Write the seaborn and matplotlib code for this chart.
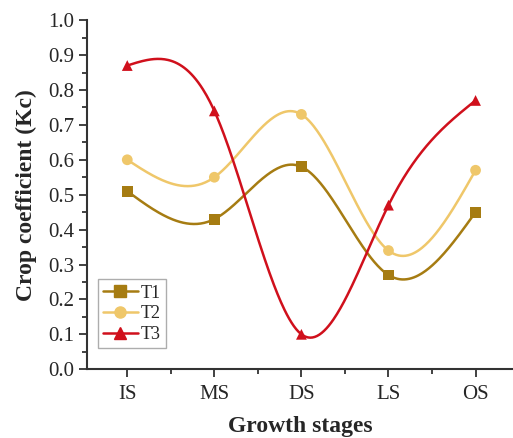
import numpy as np
import pandas as pd
import matplotlib
matplotlib.use("Agg")
import matplotlib.pyplot as plt
import seaborn as sns
from matplotlib.ticker import MultipleLocator
from matplotlib.lines import Line2D

stages = ["IS", "MS", "DS", "LS", "OS"]
t1 = [0.51, 0.43, 0.58, 0.27, 0.45]
t2 = [0.60, 0.55, 0.73, 0.34, 0.57]
t3 = [0.87, 0.74, 0.10, 0.47, 0.77]

series = {"T1": t1, "T2": t2, "T3": t3}
colors = {"T1": "#A67C12", "T2": "#EFC76A", "T3": "#D0101C"}
markers = {"T1": "s", "T2": "o", "T3": "^"}


def natural_spline(x, y, n=300):
    # plain natural cubic spline, just for the smooth curve drawing
    x = np.asarray(x, float)
    y = np.asarray(y, float)
    k = len(x)
    h = np.diff(x)
    A = np.zeros((k, k))
    b = np.zeros(k)
    A[0, 0] = 1
    A[-1, -1] = 1
    for i in range(1, k - 1):
        A[i, i - 1] = h[i - 1]
        A[i, i] = 2 * (h[i - 1] + h[i])
        A[i, i + 1] = h[i]
        b[i] = 3 * ((y[i + 1] - y[i]) / h[i] - (y[i] - y[i - 1]) / h[i - 1])
    c = np.linalg.solve(A, b)
    xs = np.linspace(x[0], x[-1], n)
    ys = np.empty_like(xs)
    for j, xv in enumerate(xs):
        i = min(np.searchsorted(x, xv, side="right") - 1, k - 2)
        dx = xv - x[i]
        bi = (y[i + 1] - y[i]) / h[i] - h[i] * (2 * c[i] + c[i + 1]) / 3
        di = (c[i + 1] - c[i]) / (3 * h[i])
        ys[j] = y[i] + bi * dx + c[i] * dx ** 2 + di * dx ** 3
    return xs, ys


sns.set_style("ticks")
plt.rcParams["font.family"] = ["Liberation Serif", "DejaVu Serif"]

fig = plt.figure(figsize=(5.13, 4.38), dpi=100)
ax = fig.add_axes([0.17, 0.157, 0.83, 0.797])

pos = np.arange(len(stages))
rows = []
for name, vals in series.items():
    for p, v in zip(pos, vals):
        rows.append({"pos": p, "Kc": v, "group": name})
df = pd.DataFrame(rows)

for name, vals in series.items():
    xs, ys = natural_spline(pos, vals)
    ax.plot(xs, ys, color=colors[name], lw=1.8, zorder=2)

sns.scatterplot(data=df, x="pos", y="Kc", hue="group", style="group",
                palette=colors, markers=markers, s=60, edgecolor="none",
                legend=False, ax=ax, zorder=3)

ax.set_xlim(-0.46, 4.43)
ax.set_ylim(0, 1.0)
ax.set_xticks(pos)
ax.set_xticklabels(stages)
ax.xaxis.set_minor_locator(MultipleLocator(0.5))
ax.yaxis.set_major_locator(MultipleLocator(0.1))
ax.yaxis.set_minor_locator(MultipleLocator(0.05))
ax.yaxis.set_major_formatter(matplotlib.ticker.FormatStrFormatter("%.1f"))
ax.tick_params(axis="both", which="major", labelsize=15, length=6, width=1.3,
               color="#333333", direction="out")
ax.tick_params(axis="x", which="major", pad=5)
ax.tick_params(axis="both", which="minor", length=3.5, width=1.3, color="#333333")
for s in ["top", "right"]:
    ax.spines[s].set_visible(False)
for s in ["left", "bottom"]:
    ax.spines[s].set_linewidth(1.5)
    ax.spines[s].set_color("#333333")

ax.set_xlabel("Growth stages", fontsize=17, fontweight="bold", labelpad=9)
ax.set_ylabel("Crop coefficient (Kc)", fontsize=17, fontweight="bold", labelpad=8)

handles = [Line2D([0], [0], color=colors[n], marker=markers[n], lw=1.8, markersize=8)
           for n in series]
leg = ax.legend(handles, list(series), loc="lower left", bbox_to_anchor=(0.025, 0.06),
                fontsize=13, frameon=True, fancybox=False, handlelength=1.9,
                handletextpad=0.15, borderpad=0.3, labelspacing=0.2,
                borderaxespad=0)
leg.get_frame().set_edgecolor("#999999")
leg.get_frame().set_linewidth(1)

fig.savefig("out.png", dpi=100)
